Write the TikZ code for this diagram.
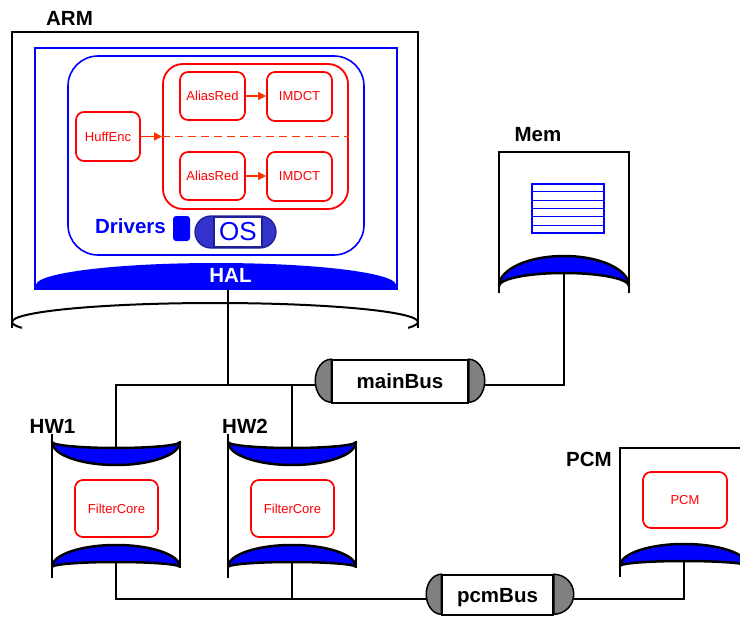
\documentclass[tikz,border=0pt]{standalone}
\usepackage{fontspec}
\setmainfont{Liberation Sans}
\usetikzlibrary{arrows.meta,calc}
\definecolor{arrowred}{RGB}{255,51,0}
\definecolor{osfill}{RGB}{51,51,204}
\definecolor{osline}{RGB}{30,30,150}
\begin{document}
\begin{tikzpicture}[x=1pt,y=1pt,
  frame/.style={draw=black,line width=2pt},
  cresc/.style={fill=blue,draw=black,line width=2.5pt,line join=round},
  proc/.style={draw=red,rounded corners=8pt,line width=1.7pt,text=red,font=\fontsize{13}{15}\selectfont,inner sep=0pt},
  title/.style={font=\fontsize{20.5}{24}\selectfont\bfseries,inner sep=0pt,anchor=base},
  wire/.style={draw=black,line width=1.5pt},
  flow/.style={draw=arrowred,line width=1.1pt,-{Triangle[length=8pt,width=8pt]}},
  busbody/.style={draw=black,fill=white,line width=1.5pt,inner sep=0pt,font=\fontsize{20.5}{24}\selectfont\bfseries},
  buscap/.style={draw=black,fill=black!50,line width=1.5pt}]
\path[use as bounding box] (0,0) rectangle (740,-618);
\clip (0,0) rectangle (740,-618);

% ---------- ARM ----------
\node[title] (armlbl) at (69.5,-26) {ARM};
\draw[frame] (12,-328) -- (12,-32) -- (418,-32) -- (418,-328);
\draw[frame] (12,-322) arc[start angle=180,end angle=0,x radius=203,y radius=19];
\draw[frame] (12,-322) arc[start angle=180,end angle=198,x radius=203,y radius=19];
\draw[frame] (418,-322) arc[start angle=0,end angle=-18,x radius=203,y radius=19];
\node[draw=blue,line width=2pt,minimum width=362pt,minimum height=241pt,inner sep=0pt] (osframe) at (216,-168.5) {};
\fill[blue] (36,-289) -- (36,-285) arc[start angle=180,end angle=0,x radius=180,y radius=22] -- (396,-289) -- cycle;
\node[title,text=white] (hal) at (230.5,-282) {HAL};
\node[draw=blue,line width=1.6pt,rounded corners=30pt,minimum width=296pt,minimum height=199pt,inner sep=0pt] (app) at (216,-155.5) {};
\node[draw=red,line width=1.8pt,rounded corners=20pt,minimum width=185pt,minimum height=145pt,inner sep=0pt] (par) at (255.5,-136.5) {};

\node[proc,minimum width=64pt,minimum height=49pt] (huff) at (108,-136.5) {HuffEnc};
\node[proc,minimum width=65pt,minimum height=48pt] (ar1) at (212.5,-96) {AliasRed};
\node[proc,minimum width=65pt,minimum height=49pt] (im1) at (299.5,-96.5) {IMDCT};
\node[proc,minimum width=65pt,minimum height=48pt] (ar2) at (212.5,-176) {AliasRed};
\node[proc,minimum width=65pt,minimum height=49pt] (im2) at (299.5,-176.5) {IMDCT};

\draw[flow] (huff.east) -- (huff.east -| par.west);
\draw[draw=arrowred,line width=1.4pt,dash pattern=on 8pt off 5pt] (huff.east -| par.west) -- (huff.east -| par.east);
\draw[flow] (ar1.east) -- (ar1.east -| im1.west);
\draw[flow] (ar2.east) -- (ar2.east -| im2.west);

\node[title,text=blue] (drv) at (130.5,-233) {Drivers};
\node[fill=blue,rounded corners=3pt,minimum width=17pt,minimum height=25pt,inner sep=0pt] (drvblk) at (181.5,-228.5) {};
\node[draw=osline,fill=osfill,line width=1.3pt,rounded corners=16pt,minimum width=81pt,minimum height=32pt,inner sep=0pt] (osbody) at (235.5,-232) {};
\node[draw=osline,fill=white,line width=1.2pt,minimum width=48pt,minimum height=30pt,inner sep=0pt,text=blue,font=\fontsize{26}{30}\selectfont] (os) at (238,-232) {OS};

% ---------- Mem ----------
\node[title] (memlbl) at (538,-142) {Mem};
\draw[frame] (499,-293) -- (499,-152) -- (629,-152) -- (629,-293);
\draw[cresc] (499,-286) arc[start angle=180,end angle=0,x radius=65,y radius=30] arc[start angle=0,end angle=180,x radius=65,y radius=13] -- cycle;
\node[draw=blue,line width=1.2pt,minimum width=72pt,minimum height=49pt,inner sep=0pt] (memtab) at (568,-208.5) {};
\foreach \k in {1,...,5}
  \draw[blue,line width=1pt] ($(memtab.north west)!\k/6!(memtab.south west)$) -- ($(memtab.north east)!\k/6!(memtab.south east)$);

% ---------- HW1 ----------
\node[title] (hw1lbl) at (52.5,-433) {HW1};
\draw[frame] (52,-434) -- (52,-578);
\draw[frame] (180,-442) -- (180,-568);
\draw[cresc] (52,-442) arc[start angle=180,end angle=360,x radius=64,y radius=6] arc[start angle=0,end angle=-180,x radius=64,y radius=23] -- cycle;
\draw[cresc] (52,-567) arc[start angle=180,end angle=0,x radius=64,y radius=22] arc[start angle=0,end angle=180,x radius=64,y radius=5] -- cycle;
\node[proc,minimum width=83pt,minimum height=57pt] (fc1) at (116.5,-508.5) {FilterCore};

% ---------- HW2 ----------
\node[title] (hw2lbl) at (245,-433) {HW2};
\draw[frame] (228,-434) -- (228,-578);
\draw[frame] (356,-442) -- (356,-568);
\draw[cresc] (228,-442) arc[start angle=180,end angle=360,x radius=64,y radius=6] arc[start angle=0,end angle=-180,x radius=64,y radius=23] -- cycle;
\draw[cresc] (228,-567) arc[start angle=180,end angle=0,x radius=64,y radius=22] arc[start angle=0,end angle=180,x radius=64,y radius=5] -- cycle;
\node[proc,minimum width=83pt,minimum height=57pt] (fc2) at (292.5,-508.5) {FilterCore};

% ---------- PCM ----------
\node[title] (pcmlbl) at (589,-466) {PCM};
\draw[frame] (620,-577) -- (620,-448) -- (748,-448) -- (748,-577);
\draw[cresc] (620,-566) arc[start angle=180,end angle=0,x radius=64,y radius=22] arc[start angle=0,end angle=180,x radius=64,y radius=5] -- cycle;
\node[proc,minimum width=84pt,minimum height=56pt] (pcmcore) at (685,-500) {PCM};

% ---------- buses ----------
\node[busbody,minimum width=136pt,minimum height=43pt] (mainbus) at (400,-381.5) {mainBus};
\draw[buscap] (mainbus.north west) arc[start angle=90,end angle=270,x radius=16,y radius=21.5] -- cycle;
\draw[buscap] (mainbus.north east) arc[start angle=90,end angle=-90,x radius=16,y radius=21.5] -- cycle;
\node[busbody,minimum width=111pt,minimum height=40pt,text depth=0pt] (pcmbus) at (497.5,-595) {pcmBus};
\draw[buscap] (pcmbus.north west) arc[start angle=90,end angle=270,x radius=15,y radius=20] -- cycle;
\draw[buscap] (pcmbus.north east) arc[start angle=90,end angle=-90,x radius=20,y radius=20] -- cycle;

% ---------- connectors ----------
\coordinate (armport) at (228,-289);
\coordinate (hw1top) at (116,-448);
\coordinate (hw2top) at (292,-448);
\coordinate (memport) at (564,-273);
\coordinate (hw1bot) at (116,-562);
\coordinate (hw2bot) at (292,-562);
\coordinate (pcmport) at (684,-561);
\coordinate (mbW) at ($(mainbus.west)+(-16,-3.5)$);
\coordinate (mbE) at ($(mainbus.east)+(16,-3.5)$);
\coordinate (pbW) at ($(pcmbus.west)+(-15,-4)$);
\coordinate (pbE) at ($(pcmbus.east)+(20,-4)$);

\draw[wire] (hw1top) |- (mbW);
\draw[wire] (armport) -- (armport |- mbW);
\draw[wire] (hw2top) -- (hw2top |- mbW);
\draw[wire] (mbE) -| (memport);
\draw[wire] (hw1bot) |- (pbW);
\draw[wire] (hw2bot) -- (hw2bot |- pbW);
\draw[wire] (pbE) -| (pcmport);
\end{tikzpicture}
\end{document}
